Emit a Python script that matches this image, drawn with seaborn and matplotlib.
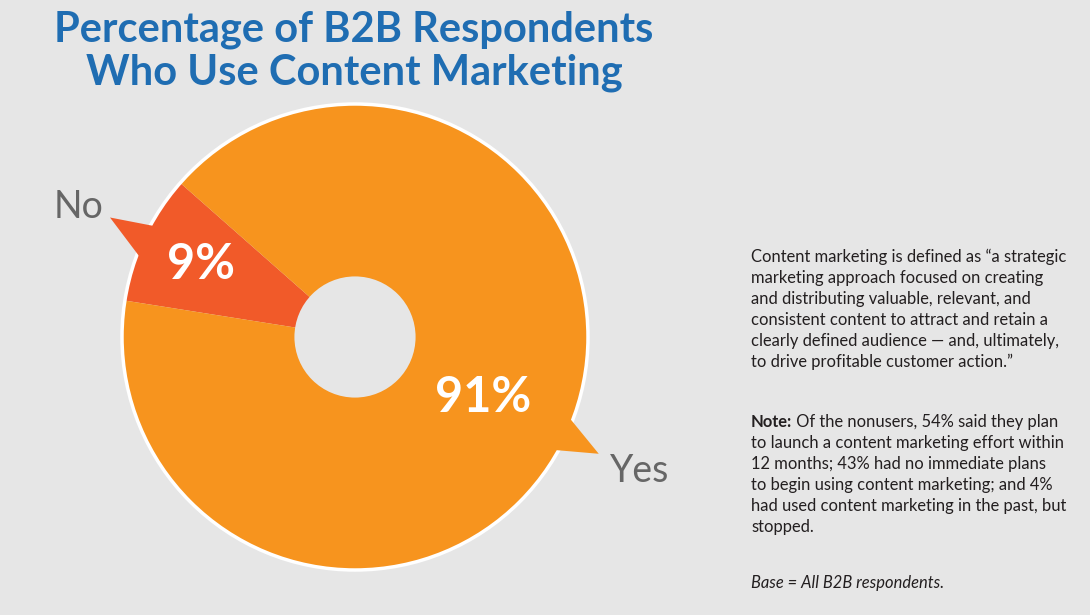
import matplotlib
matplotlib.use("Agg")
import matplotlib.pyplot as plt
import seaborn as sns
import numpy as np
from matplotlib.patches import Circle, Polygon

# --- data ---
labels = ["No", "Yes"]
shares = [9, 91]
pct_labels = ["9%", "91%"]
slice_colors = ["#F15A29", "#F7941E"]

title_lines = ["Percentage of B2B Respondents", "Who Use Content Marketing"]
definition_lines = [
    "Content marketing is defined as \u201ca strategic",
    "marketing approach focused on creating",
    "and distributing valuable, relevant, and",
    "consistent content to attract and retain a",
    "clearly defined audience \u2014 and, ultimately,",
    "to drive profitable customer action.\u201d",
]
note_lines = [
    " Of the nonusers, 54% said they plan",
    "to launch a content marketing effort within",
    "12 months; 43% had no immediate plans",
    "to begin using content marketing; and 4%",
    "had used content marketing in the past, but",
    "stopped.",
]
base_note = "Base = All B2B respondents."

BG = "#E6E6E6"
BLUE = "#1F6DB2"
GRAY = "#666666"
TEXT = "#231F20"

sns.set_theme(style="white")
plt.rcParams["font.family"] = ["Lato", "DejaVu Sans"]

W, H = 1090, 615
fig = plt.figure(figsize=(W / 100, H / 100), dpi=100, facecolor=BG)
ax = fig.add_axes([0, 0, 1, 1])
ax.set_facecolor(BG)

# pie center / radius in pixels
cx, cy, R = 355, 337, 233

start = 138.6
wedges, _ = ax.pie(shares, colors=slice_colors, startangle=start, counterclock=True,
                   radius=1, center=(0, 0), frame=True,
                   wedgeprops=dict(linewidth=0))
ax.set_xlim(-cx / R, (W - cx) / R)
ax.set_ylim(-(H - cy) / R, cy / R)
ax.set_aspect("auto")
ax.axis("off")

# white rim
ax.add_patch(Circle((0, 0), 1.0, fill=False, edgecolor="white", linewidth=2.5, zorder=3))

# callout tails (base angles / tip angle as offsets from slice middle, tip radius)
tails = [(-4.0, 5.4, -0.8, 1.17), (5.0, -4.7, -0.4, 1.16)]
mids = []
acc = start
for s in shares:
    span = s / sum(shares) * 360
    mids.append(acc + span / 2)
    acc += span
for mid, col, (b1, b2, tp, tr) in zip(mids, slice_colors, tails):
    pts = []
    for a, r in [(mid + b1, 0.97), (mid + tp, tr), (mid + b2, 0.97)]:
        pts.append((r * np.cos(np.radians(a)), r * np.sin(np.radians(a))))
    ax.add_patch(Polygon(pts, closed=True, facecolor=col, edgecolor="none", zorder=4))

# center hole
ax.add_patch(Circle((0, 0), 0.26, facecolor=BG, edgecolor="none", zorder=5))

# percentage labels
for mid, txt, r in zip(mids, pct_labels, [0.73, 0.61]):
    ax.text(r * np.cos(np.radians(mid)), r * np.sin(np.radians(mid)), txt,
            ha="center", va="center", color="white", fontsize=35, fontweight="bold", zorder=6)

# No / Yes labels
for mid, lab, r in zip(mids, labels, [1.31, 1.35]):
    ax.text(r * np.cos(np.radians(mid)), r * np.sin(np.radians(mid)), lab,
            ha="center", va="center", color=GRAY, fontsize=27, zorder=6)

# title
for i, line in enumerate(title_lines):
    fig.text(354 / W, 1 - (30 + 43 * i) / H, line, ha="center", va="center",
             color=BLUE, fontsize=30, fontweight="bold")

# right-hand notes
x0 = 751 / W
fs = 11.9
lh = 21
for i, line in enumerate(definition_lines):
    fig.text(x0, 1 - (257 + lh * i) / H, line, ha="left", va="center", color=TEXT, fontsize=fs)

renderer = fig.canvas.get_renderer()
t_note = fig.text(x0, 1 - 422 / H, "Note:", ha="left", va="center", color=TEXT,
                  fontsize=fs, fontweight="bold")
bb = t_note.get_window_extent(renderer=renderer)
for i, line in enumerate(note_lines):
    xx = (bb.x1 / W) if i == 0 else x0
    fig.text(xx, 1 - (422 + lh * i) / H, line, ha="left", va="center", color=TEXT, fontsize=fs)

fig.text(x0, 1 - 583 / H, base_note, ha="left", va="center", color=TEXT,
         fontsize=fs, fontstyle="italic")

fig.savefig("out.png", dpi=100, facecolor=BG)
